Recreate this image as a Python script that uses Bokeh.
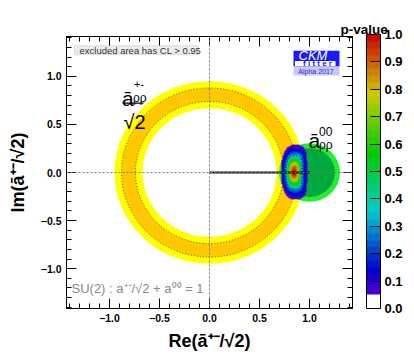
import colorsys
import numpy as np
from bokeh.plotting import figure
from bokeh.models import (LinearColorMapper, ColorBar, FixedTicker, LinearAxis,
                          Span, Label, BoxAnnotation, Title)
from bokeh.embed import file_html
from bokeh.resources import INLINE

# ---------------- data ----------------
x_ticks = [-1.0, -0.5, 0.0, 0.5, 1.0]
x_tick_labels = ["\u22121.0", "\u22120.5", "0.0", "0.5", "1.0"]
y_ticks = [-1.0, -0.5, 0.0, 0.5, 1.0]
y_tick_labels = ["\u22121.0", "\u22120.5", "0.0", "0.5", "1.0"]
minor_ticks = [-1.4, -1.3, -1.2, -1.1, -0.9, -0.8, -0.7, -0.6, -0.4, -0.3, -0.2, -0.1,
               0.1, 0.2, 0.3, 0.4, 0.6, 0.7, 0.8, 0.9, 1.1, 1.2, 1.3, 1.4]
cb_ticks = [0.0, 0.1, 0.2, 0.3, 0.4, 0.5, 0.6, 0.7, 0.8, 0.9, 1.0]
cb_tick_labels = ["0.0", "0.1", "0.2", "0.3", "0.4", "0.5", "0.6", "0.7", "0.8", "0.9", "1.0"]

# constraint from a+-/sqrt2 : ring around the origin
ring_1s = [0.74, 0.88]     # orange band (1 sigma)
ring_2s = [0.67, 0.95]     # yellow band (2 sigma)
# constraint from a00 : disc around (1, 0)
a00_x = 1.0
a00_y = 0.0
a00_1s = 0.25              # dark green
a00_2s = 0.305             # light green
# combined p-value region
comb_x = 0.843             # centre of the combined region
comb_y = 0.0
comb_left = 0.128          # half-extent to the left at p = 0.05
comb_right = 0.132         # half-extent to the right at p = 0.05
comb_half_h = 0.28         # half-height at p = 0.05
comb_shape_left = 2.3
comb_shape_right = 4.0
# isospin triangle base
base_x = [0.0, 1.0]
base_y = [0.0, 0.0]

FONT = "Liberation Sans"

# ---------------- palette ----------------
def band_color(v):
    if v < 0.05:
        return "#ffffff"
    h = 265.0 * (1.0 - (v - 0.05) / 0.95) / 360.0
    r, g, b = colorsys.hsv_to_rgb(h, 1.0, 0.8)
    return "#%02x%02x%02x" % (int(r * 255), int(g * 255), int(b * 255))

nb = 40
palette = [band_color((i + 0.5) / nb) for i in range(nb)]
mapper = LinearColorMapper(palette=palette, low=0.0, high=1.0, nan_color=(0, 0, 0, 0.0))

# ---------------- figure ----------------
p = figure(width=406, height=353, x_range=(-1.43, 1.43), y_range=(-1.415, 1.415),
           output_backend="svg", toolbar_location=None,
           min_border_left=66, min_border_right=54, min_border_top=36, min_border_bottom=43)
p.grid.visible = False
p.outline_line_color = "black"
p.background_fill_color = "white"

# ring bands
p.ellipse(x=0, y=0, width=2 * ring_2s[1], height=2 * ring_2s[1], fill_color="#ffff00", line_color=None)
p.ellipse(x=0, y=0, width=2 * ring_1s[1], height=2 * ring_1s[1], fill_color="#ffc800", line_color=None)
p.ellipse(x=0, y=0, width=2 * ring_1s[0], height=2 * ring_1s[0], fill_color="#ffff00", line_color=None)
p.ellipse(x=0, y=0, width=2 * ring_2s[0], height=2 * ring_2s[0], fill_color="white", line_color=None)
for r in ring_1s:
    p.ellipse(x=0, y=0, width=2 * r, height=2 * r, fill_color=None, line_color="#333333",
              line_dash="1 2", line_width=0.8)

# a00 disc
p.ellipse(x=a00_x, y=a00_y, width=2 * a00_2s, height=2 * a00_2s, fill_color="#22ee33", line_color=None)
p.ellipse(x=a00_x, y=a00_y, width=2 * a00_1s, height=2 * a00_1s, fill_color="#00aa3c", line_color=None)
p.ellipse(x=a00_x, y=a00_y, width=2 * a00_1s, height=2 * a00_1s, fill_color=None, line_color="#333333",
          line_dash="1 2", line_width=0.8)

# combined p-value map
gx = np.linspace(0.66, 1.02, 181)
gy = np.linspace(-0.32, 0.32, 321)
X, Y = np.meshgrid(gx, gy)
left = X < comb_x
ax_ = np.where(left, comb_left, comb_right)
n_ = np.where(left, comb_shape_left, comb_shape_right)
S = (np.abs((X - comb_x) / ax_) ** n_ + np.abs((Y - comb_y) / comb_half_h) ** n_) ** (1.0 / n_)
P = np.exp(-3.0 * S ** 2)
P_img = np.where(P >= 0.05, P, np.nan)
dx = gx[1] - gx[0]
dy = gy[1] - gy[0]
p.image(image=[P_img], x=gx[0] - dx / 2, y=gy[0] - dy / 2, dw=gx[-1] - gx[0] + dx,
        dh=gy[-1] - gy[0] + dy, color_mapper=mapper)
p.contour(gx, gy, P, levels=[0.3173], line_color="black", line_dash="1 2", line_width=1.0)

# reference lines
p.add_layout(Span(location=0, dimension="width", line_color="#777777", line_dash="2 2", line_width=1))
p.add_layout(Span(location=0, dimension="height", line_color="#777777", line_dash="2 2", line_width=1))
p.line(base_x, base_y, line_color="#111111", line_width=1.8)

# axes
for ax, ticks, labels in ((p.xaxis[0], x_ticks, x_tick_labels), (p.yaxis[0], y_ticks, y_tick_labels)):
    ax.ticker = FixedTicker(ticks=ticks, minor_ticks=minor_ticks)
    ax.major_label_overrides = dict(zip(ticks, labels))
    ax.major_tick_in = 10
    ax.major_tick_out = 0
    ax.minor_tick_in = 5
    ax.minor_tick_out = 0
    ax.axis_line_color = "black"
    ax.major_label_text_font = FONT
    ax.major_label_text_font_style = "bold"
    ax.major_label_text_font_size = "10.5px"
    ax.major_label_text_color = "black"
    ax.axis_label_text_font = FONT
    ax.axis_label_text_font_style = "bold"
    ax.axis_label_text_font_size = "18px"
    ax.axis_label_text_color = "black"
    ax.major_label_standoff = 5
p.xaxis[0].axis_label = "Re(\u0101\u207a\u207b/\u221a2)"
p.yaxis[0].axis_label = "Im(\u0101\u207a\u207b/\u221a2)"
p.xaxis[0].axis_label_standoff = 6
p.yaxis[0].axis_label_standoff = 10

top_ax = LinearAxis(ticker=FixedTicker(ticks=x_ticks, minor_ticks=minor_ticks),
                    major_label_overrides={t: "" for t in x_ticks},
                    major_tick_in=10, major_tick_out=0, minor_tick_in=5, minor_tick_out=0,
                    major_label_standoff=0, major_label_text_font_size="1px")
right_ax = LinearAxis(ticker=FixedTicker(ticks=y_ticks, minor_ticks=minor_ticks),
                      major_label_overrides={t: "" for t in y_ticks},
                      major_tick_in=10, major_tick_out=0, minor_tick_in=5, minor_tick_out=0,
                      major_label_standoff=0, major_label_text_font_size="1px")
p.add_layout(top_ax, "above")
p.add_layout(right_ax, "right")

cb = ColorBar(color_mapper=mapper, ticker=FixedTicker(ticks=cb_ticks),
              major_label_overrides=dict(zip(cb_ticks, cb_tick_labels)),
              width=14, height=274, location=(14, 0), padding=0, margin=0,
              bar_line_color="black", major_tick_line_color="black",
              major_tick_in=10, major_tick_out=0, label_standoff=4,
              major_label_text_font=FONT, major_label_text_font_style="bold",
              major_label_text_font_size="13px", major_label_text_color="black",
              background_fill_alpha=0, border_line_color=None)
p.add_layout(cb, "right")

p.add_layout(Title(text="p-value", align="left", offset=274, standoff=0,
                   text_font=FONT, text_font_size="13.5px", text_font_style="bold",
                   text_color="black"), "above")

# texts
p.add_layout(BoxAnnotation(left=-1.35, right=-0.11, bottom=1.227, top=1.32,
                           fill_color="#ececec", fill_alpha=1.0, line_color="#aaaaaa", line_width=1))
p.add_layout(Label(x=-1.30, y=1.273, text="excluded area has CL > 0.95", text_font=FONT,
                   text_font_size="9.5px", text_color="#333333", text_baseline="middle"))

p.add_layout(Label(x=-1.38, y=-1.206, text="SU(2) : a\u207a\u207b/\u221a2 + a\u2070\u2070 = 1",
                   text_font=FONT, text_font_size="13px", text_color="#888888", text_baseline="middle"))

# a+- label
p.add_layout(Label(x=-0.875, y=0.77, text="\u0101", text_font=FONT, text_font_size="21px",
                   text_color="black", text_baseline="alphabetic"))
p.add_layout(Label(x=-0.765, y=0.775, text="\u03c1\u03c1", text_font=FONT, text_font_size="12px",
                   text_color="black", text_baseline="alphabetic"))
p.add_layout(Label(x=-0.755, y=0.925, text="+-", text_font=FONT, text_font_size="11px",
                   text_color="black", text_baseline="alphabetic"))
p.segment(x0=[-0.87], y0=[0.722], x1=[-0.66], y1=[0.722], line_color="black", line_width=1.2)
p.add_layout(Label(x=-0.86, y=0.53, text="\u221a2", text_font=FONT, text_font_size="20px",
                   text_color="black", text_baseline="alphabetic"))

# a00 label
p.add_layout(Label(x=0.99, y=0.33, text="\u0101", text_font=FONT, text_font_size="21px",
                   text_color="black", text_baseline="alphabetic"))
p.add_layout(Label(x=1.095, y=0.29, text="\u03c1\u03c1", text_font=FONT, text_font_size="12px",
                   text_color="black", text_baseline="alphabetic"))
p.add_layout(Label(x=1.095, y=0.43, text="00", text_font=FONT, text_font_size="12px",
                   text_color="black", text_baseline="alphabetic"))

# CKMfitter logo
p.add_layout(BoxAnnotation(left=0.84, right=1.30, bottom=1.103, top=1.268,
                           fill_color="#1a1aff", fill_alpha=1.0, line_color=None))
p.add_layout(BoxAnnotation(left=0.855, right=1.26, bottom=1.108, top=1.160,
                           fill_color="white", fill_alpha=1.0, line_color=None))
p.add_layout(BoxAnnotation(left=0.84, right=1.30, bottom=1.01, top=1.103,
                           fill_color="#c8c8f2", fill_alpha=1.0, line_color=None))
p.add_layout(Label(x=1.035, y=1.215, text="CKM", text_font=FONT, text_font_size="13px",
                   text_font_style="italic", text_color="white", text_align="center",
                   text_baseline="middle"))
p.add_layout(Label(x=1.08, y=1.134, text="f i t t e r", text_font=FONT, text_font_size="8px",
                   text_font_style="bold", text_color="#1a1aff", text_align="center",
                   text_baseline="middle"))
p.add_layout(Label(x=1.065, y=1.055, text="Alpha 2017", text_font=FONT, text_font_size="7px",
                   text_color="#2a2ad0", text_align="center", text_baseline="middle"))

open("out.html", "w").write(file_html(p, INLINE))
